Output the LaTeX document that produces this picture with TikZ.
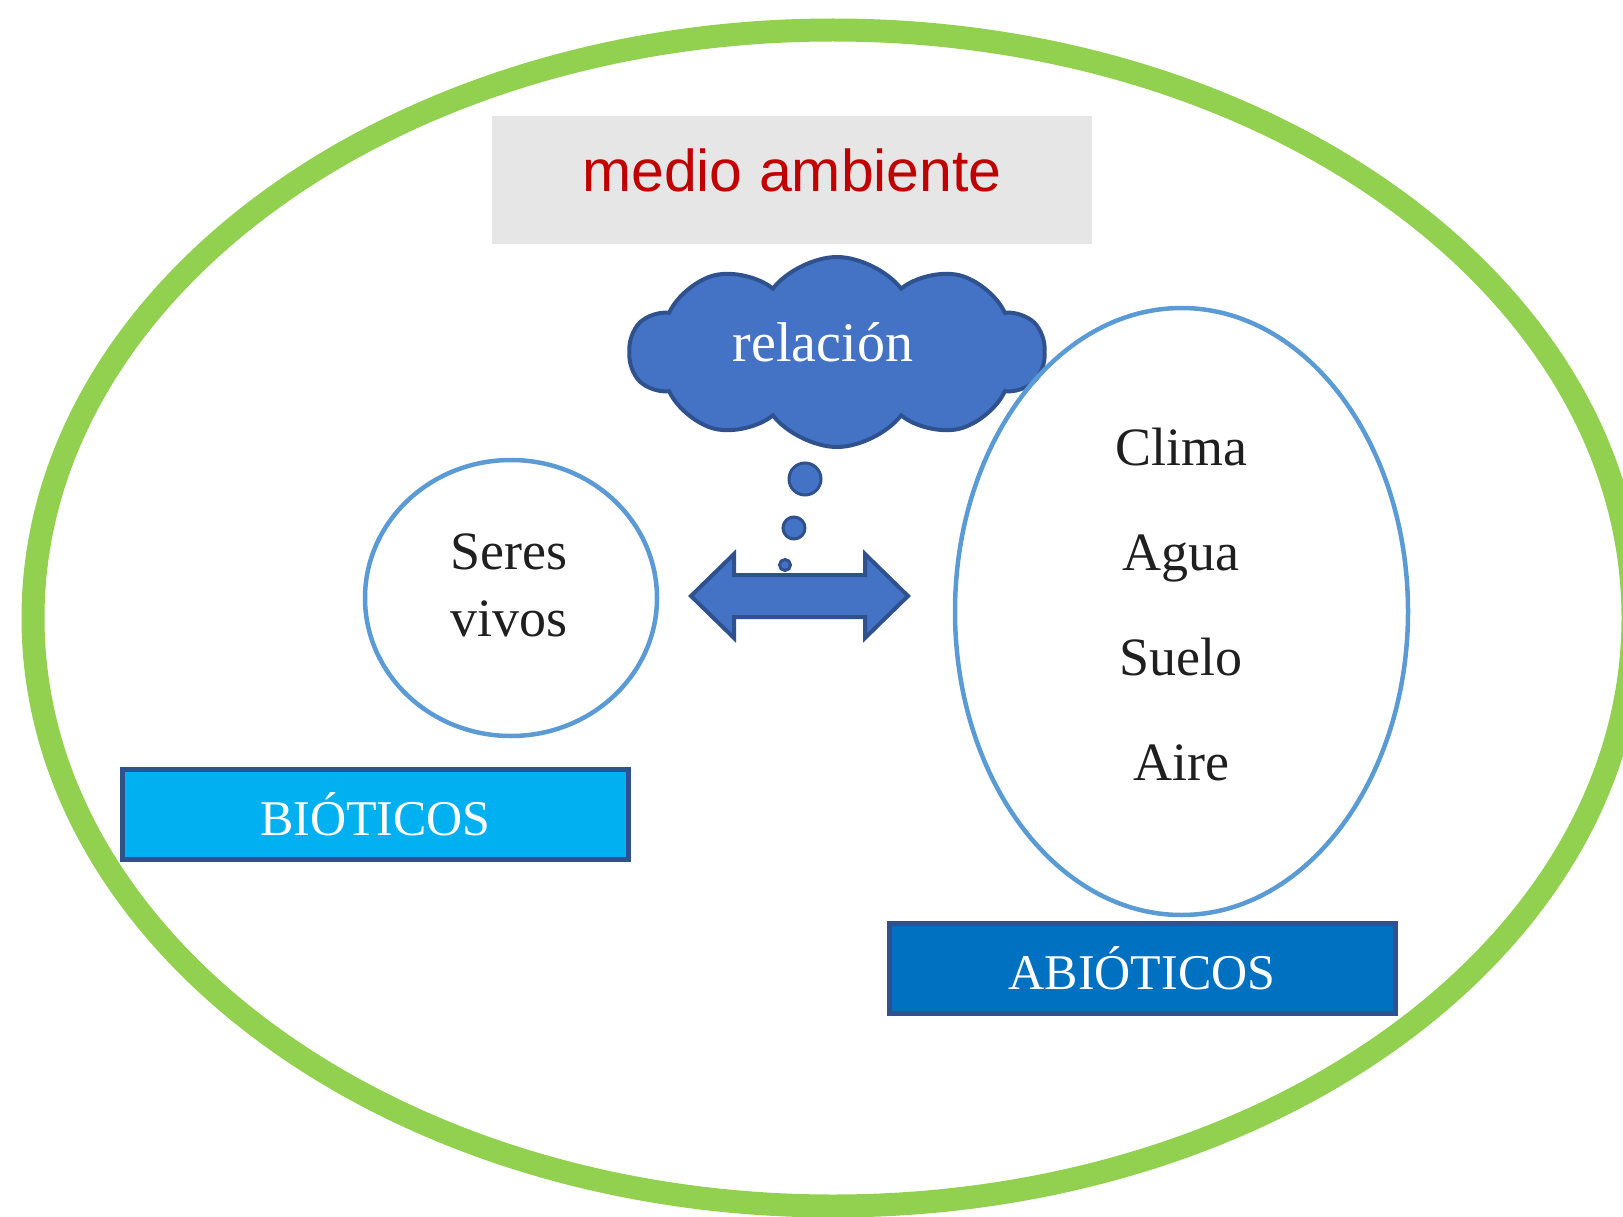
\documentclass[tikz,border=0pt]{standalone}
\usepackage{fontspec}
\setmainfont{Liberation Serif}
\newfontfamily\arialfont{Liberation Sans}
\usetikzlibrary{positioning, shapes.geometric, shapes.symbols}

\definecolor{verde}{HTML}{92D050}
\definecolor{celeste}{HTML}{5B9BD5}
\definecolor{nubeazul}{HTML}{4472C4}
\definecolor{borde}{HTML}{2F528F}
\definecolor{cian}{HTML}{00B0F0}
\definecolor{azul}{HTML}{0070C0}
\definecolor{gris}{HTML}{E7E6E6}
\definecolor{rojo}{HTML}{C00000}

\begin{document}
\begin{tikzpicture}[x=1pt,y=-1pt,
    txt/.style={font=\fontsize{54}{67}\selectfont, text=black!88, align=center},
    caja/.style={draw=borde, line width=5pt, minimum width=506pt, minimum height=90pt,
        text=white, font=\fontsize{50}{60}\selectfont, inner sep=0pt},
    burbuja/.style={circle, fill=nubeazul, draw=borde, line width=3pt, inner sep=0pt}]
    \useasboundingbox (0,0) rectangle (1623,1217);

    % medio ambiente
    \draw[verde, line width=23pt] (833,618) ellipse [x radius=800, y radius=588];
    \node[fill=gris, minimum width=600pt, minimum height=128pt, text depth=20pt,
        text=rojo, font=\arialfont\fontsize{59}{70}\selectfont] (titulo) at (792,180) {medio ambiente};

    % relacion
    \node[cloud, cloud puffs=10, cloud puff arc=105, aspect=2.2, fill=nubeazul, draw=borde,
        line width=4pt, minimum width=415pt, minimum height=190pt] (nube) at (837,352) {};
    \node[text=white, font=\fontsize{56}{66}\selectfont] (rel) at ([xshift=-14pt,yshift=10pt]nube.center) {relación};
    \node[burbuja, minimum size=32pt] (b1) at (805,479) {};
    \node[burbuja, minimum size=22pt] (b2) at (794,528) {};
    \node[burbuja, minimum size=11pt] (b3) at (785,565) {};
    \draw[fill=nubeazul, draw=borde, line width=4pt, line join=miter]
        (691,596) -- (734,554) -- (734,575) -- (865,575) -- (865,554) -- (908,596)
        -- (865,638) -- (865,617) -- (734,617) -- (734,638) -- cycle;

    % bioticos
    \node[ellipse, draw=celeste, line width=4.5pt, minimum width=292pt, minimum height=276pt] (vivos) at (511,598) {};
    \node[txt] (seres) at ([xshift=-2pt,yshift=13pt]vivos.center) {Seres\\vivos};
    \node[caja, fill=cian] (biot) at (375.5,814.5) {BIÓTICOS};

    % abioticos
    \node[ellipse, draw=celeste, line width=4.5pt, minimum width=453pt, minimum height=607pt] (abio) at (1181.5,611.5) {};
    \node[txt, anchor=base] (clima) at (1181,465) {Clima};
    \node[txt, anchor=base] (agua) at ([yshift=-105pt]clima.base) {Agua};
    \node[txt, anchor=base] (suelo) at ([yshift=-105pt]agua.base) {Suelo};
    \node[txt, anchor=base] (aire) at ([yshift=-105pt]suelo.base) {Aire};
    \node[caja, fill=azul] (abiot) at (1142,968.5) {ABIÓTICOS};
\end{tikzpicture}
\end{document}
